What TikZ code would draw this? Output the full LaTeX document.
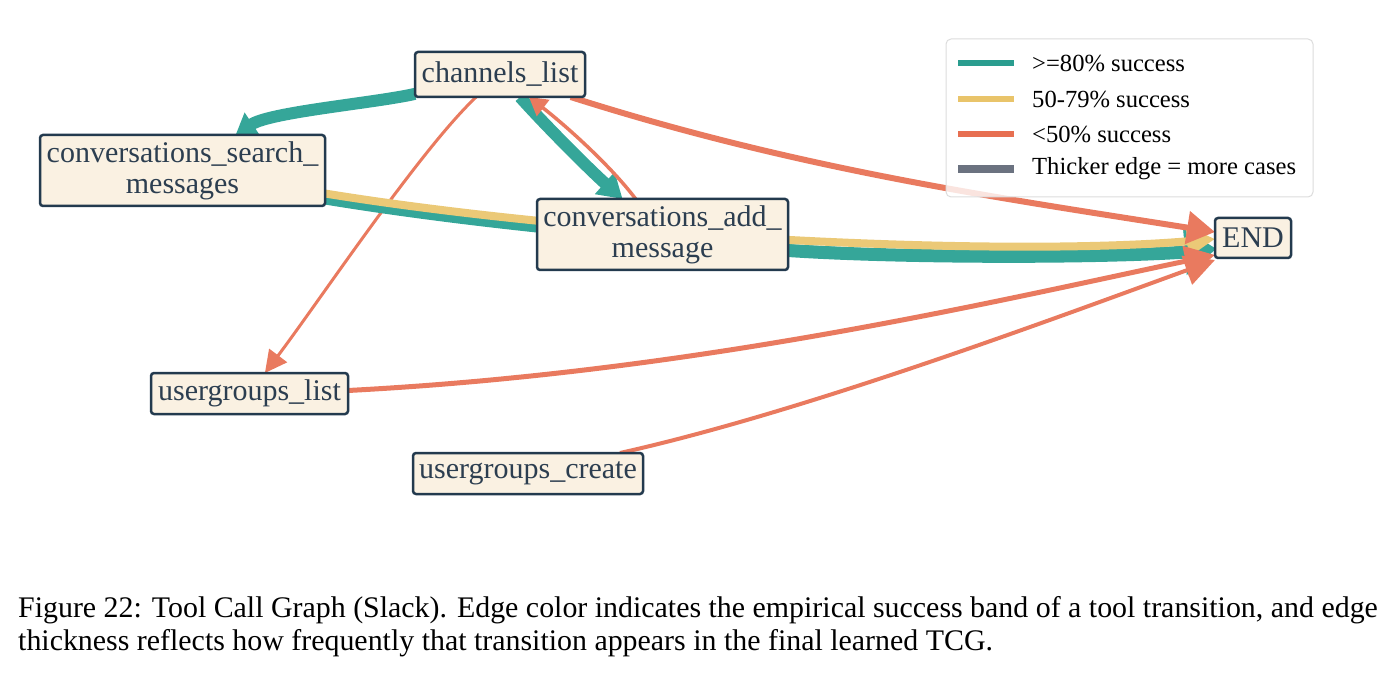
\documentclass[tikz,border=0pt]{standalone}
\usepackage{fontspec}
\setmainfont{Liberation Serif}
\usetikzlibrary{arrows.meta,calc}
\definecolor{tealc}{HTML}{35A699}
\definecolor{yelc}{HTML}{EBC977}
\definecolor{orac}{HTML}{E97A5F}
\definecolor{tealL}{HTML}{2A9D8F}
\definecolor{yelL}{HTML}{E9C46A}
\definecolor{oraL}{HTML}{E76F51}
\definecolor{grayL}{HTML}{6B7280}
\definecolor{nodefill}{HTML}{FAF1E2}
\definecolor{nodeline}{HTML}{233A4E}
\definecolor{txt}{HTML}{2C3E50}
\definecolor{legbd}{HTML}{DCDCDC}
\pgfdeclarelayer{edges}
\pgfsetlayers{edges,main}
\tikzset{
  tool/.style={draw=nodeline, line width=2.5pt, fill=nodefill, rounded corners=3pt,
    inner sep=0pt, outer sep=0pt, text=txt, font=\fontsize{30}{31}\selectfont, align=center},
  tealedge/.style={draw=tealc, line cap=butt},
  yeledge/.style={draw=yelc, line cap=butt},
  oraedge/.style={draw=orac, line cap=butt},
  legtext/.style={anchor=west, inner sep=0pt, text=black, font=\fontsize{24.6}{26}\selectfont},
  captext/.style={anchor=base west, inner sep=0pt, text=black, font=\fontsize{29.9}{33}\selectfont},
}
\begin{document}
\begin{tikzpicture}[x=1pt,y=-1pt]
\path[use as bounding box] (0,0) rectangle (1392,676);

% nodes
\node[tool, minimum width=170pt, minimum height=45pt] (cl) at (500,74.5) {channels\_list};
\node[tool, minimum width=285pt, minimum height=71pt] (csm) at (182.5,170.5) {conversations\_search\_\\messages};
\node[tool, minimum width=251pt, minimum height=71pt] (cam) at (662.5,234.5) {conversations\_add\_\\message};
\node[tool, minimum width=76pt, minimum height=40pt] (endn) at (1253,238) {END};
\node[tool, minimum width=197pt, minimum height=41pt] (ugl) at (249.5,393.5) {usergroups\_list};
\node[tool, minimum width=230pt, minimum height=41pt] (ugc) at (528,473.5) {usergroups\_create};

% edges
\begin{pgfonlayer}{edges}
\draw[tealedge, line width=12pt, -{Triangle[length=20pt,width=26pt]}]
  (cl) .. controls (375,103) and (270,112) .. (csm);
\draw[tealedge, line width=12pt, -{Triangle[length=24pt,width=28pt]}]
  (cl) .. controls (545,125) and (590,170) .. (cam);
\draw[oraedge, line width=3.5pt, -{Triangle[length=18pt,width=20pt]}]
  (cam) .. controls (610,165) and (565,125) .. (cl);
\draw[oraedge, line width=3pt, -{Triangle[length=22pt,width=22pt]}]
  (cl) .. controls (420,150) and (320,300) .. (ugl);
\draw[tealedge, line width=9pt, -{Triangle[length=30pt,width=44pt]}]
  ($(csm.south east)+(0,-6)$) .. controls (600,245) and (1000,268) .. ($(endn.west)+(0,10)$);
\draw[tealedge, line width=13pt, -{Triangle[length=30pt,width=44pt]}]
  ($(cam.east)+(0,16)$) .. controls (900,258) and (1100,258) .. ($(endn.west)+(0,12)$);
\draw[yeledge, line width=8pt, -{Triangle[length=28pt,width=30pt]}]
  ($(csm.east)+(0,23)$) .. controls (600,238) and (1000,257) .. ($(endn.west)+(0,1)$);
\draw[oraedge, line width=6pt, -{Triangle[length=28pt,width=32pt]}]
  (cl) .. controls (800,170) and (1000,198) .. (endn);
\draw[oraedge, line width=5pt, -{Triangle[length=30pt,width=30pt]}]
  ($(ugl.east)+(0,-3)$) .. controls (700,372) and (1000,300) .. ($(endn.west)+(0,17)$);
\draw[oraedge, line width=4pt, -{Triangle[length=30pt,width=30pt]}]
  (ugc) .. controls (804,412) and (1050,320) .. ($(endn.west)+(0,22)$);
\end{pgfonlayer}

% legend
\node[draw=legbd, line width=1pt, rounded corners=5pt, fill=white, fill opacity=0.8,
  minimum width=367pt, minimum height=158pt, inner sep=0pt] (leg) at (1129.5,118) {};
\draw[tealL, line width=6pt] (958,63) -- (1014,63);
\draw[yelL, line width=6pt] (958,99) -- (1014,99);
\draw[oraL, line width=6pt] (958,134) -- (1014,134);
\draw[grayL, line width=8pt] (958,169) -- (1014,169);
\node[legtext] (l1) at (1032,63) {>=80\% success};
\node[legtext] (l2) at (1032,99) {50-79\% success};
\node[legtext] (l3) at (1032,134) {<50\% success};
\node[legtext] (l4) at (1032,169) {Thicker edge = more cases};

% caption
\node[captext] (cap1) at (18,617) {Figure 22: Tool Call Graph (Slack). Edge color indicates the empirical success band of a tool transition, and edge};
\node[captext] (cap2) at (18,650) {thickness reflects how frequently that transition appears in the final learned TCG.};
\end{tikzpicture}
\end{document}
